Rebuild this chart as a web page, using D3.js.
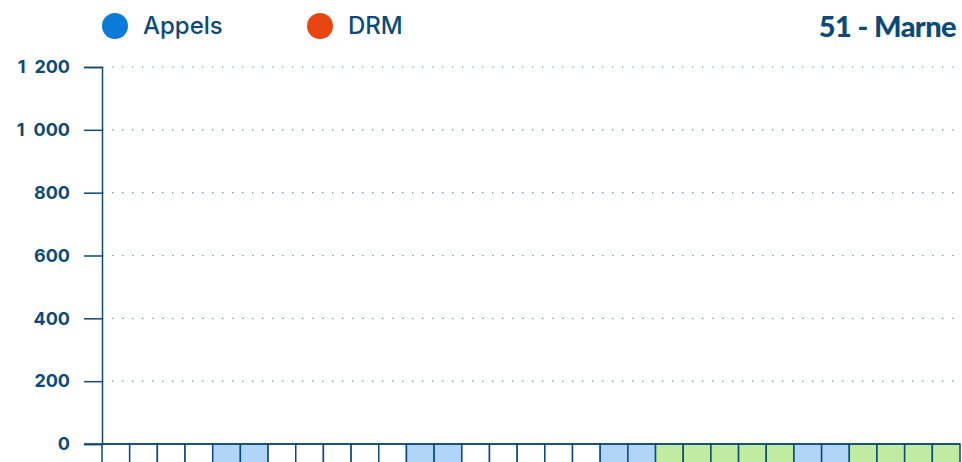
<!DOCTYPE html>
<html>
<head>
<meta charset="utf-8">
<script src="https://cdn.jsdelivr.net/npm/d3@7"></script>
<style>
  body { margin: 0; background: #fff; }
  svg { display: block; font-family: Inter, Roboto, "Noto Sans", sans-serif; }
</style>
</head>
<body>
<div id="chart"></div>
<script>
// octobre 2024, jour par jour
const days = d3.range(1, 32).map(d => String(d));
// w = semaine, s = week-end, v = vacances scolaires
const dayTypes = ["w","w","w","w","s","s","w","w","w","w","w","s","s","w","w","w","w","w","s","s",
                  "v","v","v","v","v","s","s","v","v","v","v"];
const appels = new Array(31).fill(0);
const drm = new Array(31).fill(0);
const yTicks = [0, 200, 400, 600, 800, 1000, 1200];
const legendItems = [
  { label: "Appels", color: "#0a7bd6" },
  { label: "DRM", color: "#e84513" }
];
const title = "51 - Marne";

const W = 962, H = 462;
const margin = { top: 67, right: 2, bottom: 18, left: 102 };
const width = W - margin.left - margin.right;
const height = H - margin.top - margin.bottom;
const ink = "#0c4a78";
const fills = { w: "#ffffff", s: "#b1d5f6", v: "#c0eba1" };

const svg = d3.select("#chart").append("svg")
  .attr("width", W).attr("height", H);

const g = svg.append("g")
  .attr("transform", `translate(${margin.left},${margin.top})`);

const x = d3.scaleBand().domain(days).range([0, width]).padding(0);
const y = d3.scaleLinear().domain([0, 1200]).range([height, 0]);

// grille pointillée
g.append("g").selectAll("line")
  .data(yTicks.filter(t => t > 0))
  .enter().append("line")
  .attr("x1", 0).attr("x2", width)
  .attr("y1", d => y(d)).attr("y2", d => y(d))
  .attr("stroke", "#6f9cc0")
  .attr("stroke-width", 1.2)
  .attr("stroke-dasharray", "1.5,8.5");

// barres (toutes à zéro)
const sub = d3.scaleBand().domain(["a", "d"]).range([0, x.bandwidth()]).padding(0.2);
g.append("g").selectAll("rect")
  .data(days.map((d, i) => ({ d, a: appels[i], r: drm[i] })))
  .enter().append("g")
  .attr("transform", d => `translate(${x(d.d)},0)`)
  .each(function (d) {
    const s = d3.select(this);
    s.append("rect").attr("x", sub("a")).attr("width", sub.bandwidth())
      .attr("y", y(d.a)).attr("height", height - y(d.a)).attr("fill", legendItems[0].color);
    s.append("rect").attr("x", sub("d")).attr("width", sub.bandwidth())
      .attr("y", y(d.r)).attr("height", height - y(d.r)).attr("fill", legendItems[1].color);
  });

// cases des jours
g.append("g").selectAll("rect")
  .data(days)
  .enter().append("rect")
  .attr("x", d => x(d))
  .attr("y", height)
  .attr("width", x.bandwidth())
  .attr("height", 40)
  .attr("fill", (d, i) => fills[dayTypes[i]])
  .attr("stroke", ink)
  .attr("stroke-width", 1.5);

// axe Y
const yAxis = g.append("g")
  .call(d3.axisLeft(y).tickValues(yTicks).tickSize(18).tickPadding(14)
    .tickFormat(d => d3.format(",")(d).replace(",", "\u2002")));
yAxis.attr("font-family", null);
yAxis.select(".domain").attr("stroke", ink).attr("stroke-width", 1.5);
yAxis.selectAll(".tick line").attr("stroke", ink).attr("stroke-width", 1.5);
yAxis.selectAll("text")
  .attr("fill", ink)
  .style("font-size", "18px")
  .style("font-weight", "700");

// ligne du zéro
g.append("line")
  .attr("x1", -18).attr("x2", width)
  .attr("y1", y(0)).attr("y2", y(0))
  .attr("stroke", ink).attr("stroke-width", 1.5);

// légende
const leg = svg.append("g").selectAll("g")
  .data(legendItems)
  .enter().append("g")
  .attr("transform", (d, i) => `translate(${115 + i * 205},26)`);
leg.append("circle").attr("r", 13).attr("fill", d => d.color);
leg.append("text")
  .attr("x", 28).attr("dy", "0.35em")
  .attr("fill", ink)
  .style("font-size", "24px")
  .style("font-weight", "500")
  .text(d => d.label);

// titre
svg.append("text")
  .attr("x", 956).attr("y", 37)
  .attr("text-anchor", "end")
  .attr("fill", ink)
  .style("font-family", "Lato, sans-serif")
  .style("font-size", "29px")
  .style("font-weight", "900")
  .style("letter-spacing", "-0.6px")
  .text(title);
</script>
</body>
</html>
